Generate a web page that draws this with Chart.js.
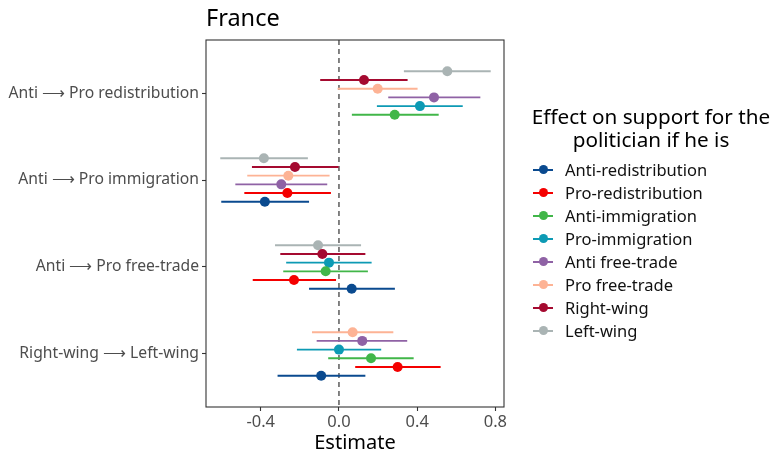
<!DOCTYPE html>
<html>
<head>
<meta charset="utf-8">
<script src="https://cdn.jsdelivr.net/npm/chart.js@4"></script>
<style>
  body { margin: 0; background: #fff; font-family: "Noto Sans", "DejaVu Sans", sans-serif; }
  #wrap { position: relative; width: 776px; height: 453px; }
  #chart { position: absolute; left: 0; top: 0; }
  #title { position: absolute; left: 206px; top: 1px; font-size: 23.5px; color: #000; }
  #legend { position: absolute; left: 525px; top: 105px; width: 250px; }
  #legend .ttl { text-align: center; font-size: 20.7px; line-height: 23px; color: #000; margin-bottom: 7px; width: 252px; white-space: nowrap; }
  #legend .row { position: relative; height: 23px; font-size: 16.5px; line-height: 23px; color: #111; white-space: nowrap; }
  #legend .line { position: absolute; left: 8px; top: 10.5px; width: 20px; height: 2px; }
  #legend .dot { position: absolute; left: 13.5px; top: 7px; width: 9px; height: 9px; border-radius: 50%; }
  #legend .lbl { position: absolute; left: 40px; top: 0; }
</style>
</head>
<body>
<div id="wrap">
  <canvas id="chart" width="776" height="453"></canvas>
  <div id="title">France</div>
  <div id="legend"></div>
</div>
<script>
// categories, top to bottom on the y axis
const categories = ["Anti \u27f6 Pro redistribution", "Anti \u27f6 Pro immigration", "Anti \u27f6 Pro free-trade", "Right-wing \u27f6 Left-wing"];
const seriesNames = ["Anti-redistribution", "Pro-redistribution", "Anti-immigration", "Pro-immigration", "Anti free-trade", "Pro free-trade", "Right-wing", "Left-wing"];
const seriesColors = ["#0a4a8f", "#f40000", "#41b649", "#0d9ab4", "#8f62a5", "#fdb395", "#a50a30", "#aab4b4"];
const xTicks = [-0.4, 0.0, 0.4, 0.8];

// estimates and 95% intervals per series, in category order (null = not estimated)
const estAntiRedis = [null, -0.379, 0.065, -0.091];
const lowAntiRedis = [null, -0.602, -0.153, -0.314];
const highAntiRedis = [null, -0.153, 0.286, 0.135];
const estProRedis = [null, -0.264, -0.230, 0.300];
const lowProRedis = [null, -0.484, -0.441, 0.083];
const highProRedis = [null, -0.041, -0.015, 0.520];
const estAntiImm = [0.285, null, -0.068, 0.164];
const lowAntiImm = [0.066, null, -0.285, -0.055];
const highAntiImm = [0.510, null, 0.148, 0.382];
const estProImm = [0.414, null, -0.051, 0.0];
const lowProImm = [0.194, null, -0.270, -0.215];
const highProImm = [0.633, null, 0.167, 0.216];
const estAntiFT = [0.486, -0.295, null, 0.119];
const lowAntiFT = [0.252, -0.530, null, -0.114];
const highAntiFT = [0.723, -0.060, null, 0.349];
const estProFT = [0.198, -0.259, null, 0.070];
const lowProFT = [-0.007, -0.469, null, -0.138];
const highProFT = [0.402, -0.048, null, 0.278];
const estRight = [0.128, -0.225, -0.085, null];
const lowRight = [-0.096, -0.445, -0.300, null];
const highRight = [0.351, -0.002, 0.135, null];
const estLeft = [0.554, -0.384, -0.107, null];
const lowLeft = [0.332, -0.607, -0.327, null];
const highLeft = [0.776, -0.159, 0.113, null];

const estimates = [estAntiRedis, estProRedis, estAntiImm, estProImm, estAntiFT, estProFT, estRight, estLeft];
const lows = [lowAntiRedis, lowProRedis, lowAntiImm, lowProImm, lowAntiFT, lowProFT, lowRight, lowLeft];
const highs = [highAntiRedis, highProRedis, highAntiImm, highProImm, highAntiFT, highProFT, highRight, highLeft];

// dodge: series present in a category are spread around it, first series at the bottom
const dodgeStep = 0.1;
function catValue(ci) { return categories.length - ci; }
function dodgedY(si, ci) {
    const present = estimates.map((e, i) => e[ci] !== null ? i : -1).filter(i => i >= 0);
    const rank = present.indexOf(si);
    return catValue(ci) - ((present.length - 1) / 2 - rank) * dodgeStep;
}

const datasets = seriesNames.map((name, si) => ({
    label: name,
    data: categories.map((c, ci) => estimates[si][ci] === null ? null : {
        x: estimates[si][ci], y: dodgedY(si, ci), lo: lows[si][ci], hi: highs[si][ci]
    }).filter(p => p !== null),
    backgroundColor: seriesColors[si],
    borderColor: seriesColors[si],
    pointRadius: 5,
    pointHoverRadius: 5,
    borderWidth: 0
}));

const errorBars = {
    id: "errorBars",
    beforeDatasetsDraw(chart) {
        const { ctx, chartArea, scales } = chart;
        ctx.save();
        // dashed reference line at zero
        ctx.strokeStyle = "#333";
        ctx.lineWidth = 1.2;
        ctx.setLineDash([5, 4]);
        const x0 = scales.x.getPixelForValue(0);
        ctx.beginPath();
        ctx.moveTo(x0, chartArea.top);
        ctx.lineTo(x0, chartArea.bottom);
        ctx.stroke();
        ctx.setLineDash([]);
        chart.data.datasets.forEach(ds => {
            ctx.strokeStyle = ds.borderColor;
            ctx.lineWidth = 1.9;
            ds.data.forEach(p => {
                const y = scales.y.getPixelForValue(p.y);
                ctx.beginPath();
                ctx.moveTo(scales.x.getPixelForValue(p.lo), y);
                ctx.lineTo(scales.x.getPixelForValue(p.hi), y);
                ctx.stroke();
            });
        });
        ctx.restore();
    },
    afterDraw(chart) {
        const { ctx, chartArea } = chart;
        ctx.save();
        ctx.strokeStyle = "#333";
        ctx.lineWidth = 1.1;
        ctx.strokeRect(chartArea.left, chartArea.top, chartArea.right - chartArea.left, chartArea.bottom - chartArea.top);
        ctx.restore();
    }
};

new Chart(document.getElementById("chart").getContext("2d"), {
    type: "scatter",
    data: { datasets: datasets },
    options: {
        responsive: false,
        animation: false,
        layout: { padding: { left: 6, top: 40, right: 272, bottom: 0 } },
        plugins: { legend: { display: false }, tooltip: { enabled: false } },
        scales: {
            x: {
                type: "linear",
                min: -0.68,
                max: 0.844,
                afterBuildTicks: axis => { axis.ticks = xTicks.map(v => ({ value: v })); },
                afterFit: axis => { axis.height = 46; },
                ticks: {
                    callback: v => v.toFixed(1),
                    color: "#4d4d4d",
                    font: { family: "Noto Sans", size: 16.5, lineHeight: 1.1 },
                    padding: 2
                },
                grid: { drawOnChartArea: false, tickLength: 4, color: "#333", tickWidth: 1.1 },
                border: { display: false },
                title: {
                    display: true,
                    text: "Estimate",
                    color: "#000",
                    font: { family: "Noto Sans", size: 20, lineHeight: 1.0 },
                    padding: { top: 0, bottom: 0 }
                }
            },
            y: {
                type: "linear",
                min: 0.39,
                max: 4.61,
                afterBuildTicks: axis => { axis.ticks = categories.map((c, ci) => ({ value: catValue(ci) })); },
                afterFit: axis => { axis.width = 200; },
                ticks: {
                    callback: v => categories[categories.length - v],
                    color: "#4d4d4d",
                    font: { family: "Noto Sans", size: 15.7 },
                    padding: 3
                },
                grid: { drawOnChartArea: false, tickLength: 4, color: "#333", tickWidth: 1.1 },
                border: { display: false }
            }
        }
    },
    plugins: [errorBars]
});

// legend
const legend = document.getElementById("legend");
legend.innerHTML = '<div class="ttl">Effect on support for the<br>politician if he is</div>' +
    seriesNames.map((n, i) =>
        '<div class="row"><div class="line" style="background:' + seriesColors[i] + '"></div>' +
        '<div class="dot" style="background:' + seriesColors[i] + '"></div>' +
        '<div class="lbl">' + n + '</div></div>').join("");
</script>
</body>
</html>
